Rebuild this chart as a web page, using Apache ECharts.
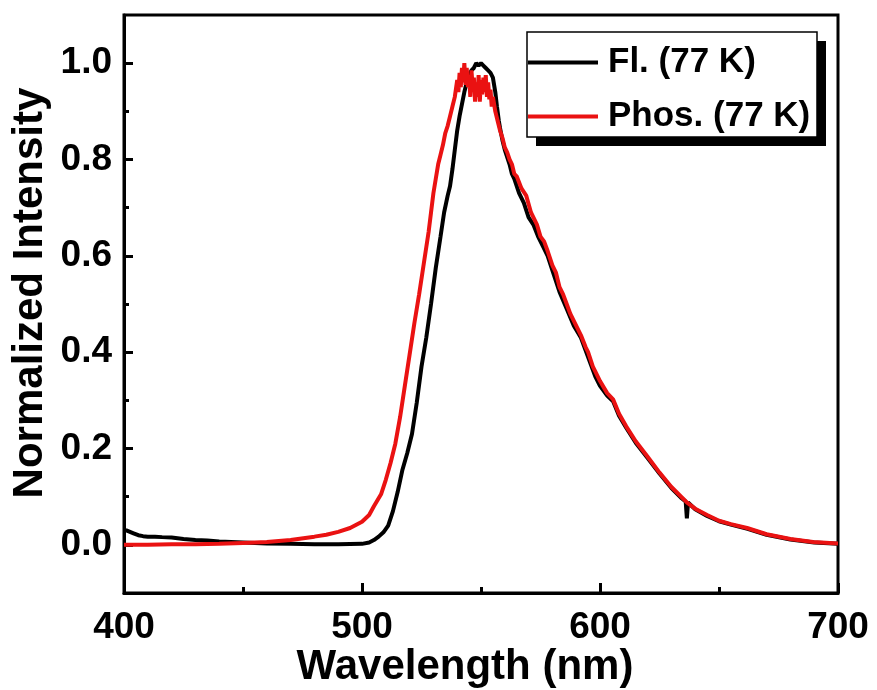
<!DOCTYPE html>
<html>
<head>
<meta charset="utf-8">
<script src="https://cdn.jsdelivr.net/npm/echarts@6/dist/echarts.min.js"></script>
<style>html,body{margin:0;padding:0;background:#fff;}#chart{width:877px;height:690px;}</style>
</head>
<body>
<div id="chart"></div>
<script>
// ---- data ----
const seriesNames = ['Fl. (77 K)', 'Phos. (77 K)'];
const xTicks = [400, 500, 600, 700];
const yTickLabels = [0.0, 0.2, 0.4, 0.6, 0.8, 1.0];
const yMinorTicks = [0.1, 0.3, 0.5, 0.7, 0.9];

const flWavelength = [400,401,402,404,406,408,410,413,416,420,425,430,435,440,445,450,460,470,480,490,500,503,505,507,509,511,513,515,517,519,521,523,525,527,529,531,533,534.5,536,537,538,539,540,541,542,543,544,545,546,547,548,549,550,551,552,553,554,555,556,556.7,557.5,558,559,560,562,563,564,566,568,570,572,574,576,578,580,583,586,589,592,595,598,600,603,605.5,608,611,615,620,625,630,634,636,636.5,637,640,645,650,655,662,670,680,690,700];
const flIntensity  = [0.031,0.030,0.028,0.024,0.020,0.018,0.017,0.017,0.016,0.015,0.012,0.010,0.009,0.007,0.006,0.005,0.003,0.002,0.001,0.001,0.002,0.005,0.010,0.017,0.026,0.040,0.070,0.110,0.156,0.190,0.230,0.295,0.370,0.430,0.500,0.575,0.640,0.690,0.725,0.745,0.780,0.820,0.860,0.890,0.915,0.940,0.960,0.975,0.985,0.990,1.000,0.995,1.000,0.995,0.990,0.985,0.980,0.970,0.940,0.910,0.880,0.865,0.840,0.820,0.790,0.770,0.760,0.730,0.710,0.680,0.665,0.640,0.620,0.600,0.570,0.525,0.490,0.455,0.430,0.390,0.350,0.330,0.310,0.298,0.268,0.243,0.212,0.180,0.148,0.118,0.098,0.090,0.055,0.088,0.074,0.060,0.049,0.042,0.033,0.021,0.011,0.005,0.002];

const phWavelength = [400,410,420,430,440,450,460,470,480,485,490,495,500,503,505,508,510,512,514,516,518,520,522,524,526,528,529,530,531,532,533,534,535,536,537,538,539,540,540.5,541,541.5,542,542.5,543,543.5,544,544.5,545,545.5,546,546.5,547,547.5,548,548.5,549,549.5,550,550.5,551,551.5,552,552.5,553,553.5,554,554.5,555,556,557,558,559,560,561,562,563,564,565,567,569,571,573.5,575,576.5,578,580,581.5,583,584.5,586,587.5,589,590.5,592,594,595,597,598,600,603,605.5,608,611,615,620,625,630,636.6,640,645,650,655,661.8,670,680,689.5,700];
const phIntensity  = [0.000,0.000,0.001,0.001,0.002,0.004,0.006,0.010,0.017,0.021,0.027,0.035,0.048,0.062,0.080,0.105,0.135,0.170,0.210,0.265,0.330,0.395,0.460,0.520,0.585,0.650,0.690,0.730,0.760,0.790,0.810,0.830,0.855,0.870,0.890,0.910,0.930,0.965,0.940,0.980,0.950,0.990,0.960,1.000,0.955,0.990,0.950,0.975,0.930,0.985,0.950,0.970,0.920,0.960,0.930,0.975,0.920,0.965,0.935,0.970,0.940,0.975,0.930,0.960,0.925,0.945,0.910,0.930,0.900,0.880,0.860,0.845,0.825,0.815,0.800,0.790,0.770,0.765,0.740,0.725,0.690,0.665,0.640,0.630,0.610,0.580,0.565,0.535,0.520,0.500,0.480,0.465,0.450,0.435,0.410,0.400,0.370,0.360,0.340,0.315,0.302,0.272,0.246,0.215,0.183,0.150,0.120,0.0875,0.075,0.062,0.050,0.043,0.035,0.022,0.012,0.006,0.003];

const zip = (xs, ys) => xs.map((x, i) => [x, ys[i]]);
const FONT = '"Liberation Sans", Arial, sans-serif';
const RED = '#ea1212';

const chart = echarts.init(document.getElementById('chart'), null, {renderer: 'canvas'});
chart.setOption({
  animation: false,
  backgroundColor: '#fff',
  grid: {left: 124, right: 39, top: 15, bottom: 97, show: true, borderColor: '#000', borderWidth: 3, backgroundColor: 'transparent', containLabel: false, outerBoundsMode: 'none'},
  graphic: [
    {type: 'rect', z: 90, shape: {x: 536, y: 41, width: 290, height: 105}, style: {fill: '#000'}},
    {type: 'rect', z: 91, shape: {x: 527, y: 32, width: 290, height: 105}, style: {fill: '#fff', stroke: '#000', lineWidth: 1.5}}
  ],
  legend: {
    z: 100,
    data: seriesNames,
    orient: 'vertical',
    left: 528, top: 45,
    itemWidth: 70, itemHeight: 4, itemGap: 19,
    icon: 'rect',
    textStyle: {fontFamily: FONT, fontWeight: 'bold', fontSize: 35, color: '#000', padding: [0, 0, 0, 5], lineHeight: 34},
    padding: 0
  },
  xAxis: {
    type: 'value', min: 400, max: 700, interval: 100,
    name: 'Wavelength (nm)', nameLocation: 'middle', nameGap: 53, nameMoveOverlap: false,
    nameTextStyle: {fontFamily: FONT, fontWeight: 'bold', fontSize: 42, color: '#000', padding: [0, 32, 0, 0]},
    axisLine: {show: true, onZero: false, lineStyle: {color: '#000', width: 3}},
    axisTick: {show: true, inside: true, length: 10, lineStyle: {color: '#000', width: 3}},
    minorTick: {show: true, splitNumber: 2, length: 6, lineStyle: {color: '#000', width: 3}},
    axisLabel: {fontFamily: FONT, fontWeight: 'bold', fontSize: 37, color: '#000', margin: 16, customValues: xTicks},
    splitLine: {show: false}, minorSplitLine: {show: false}
  },
  yAxis: [{
    type: 'value', min: -0.1, max: 1.1, interval: 0.1,
    name: 'Normalized Intensity', nameLocation: 'middle', nameGap: 73, nameMoveOverlap: false,
    nameTextStyle: {fontFamily: FONT, fontWeight: 'bold', fontSize: 42, color: '#000', padding: [0, 0, 0, 22]},
    axisLine: {show: true, onZero: false, lineStyle: {color: '#000', width: 3}},
    axisTick: {show: true, inside: true, length: 9, lineStyle: {color: '#000', width: 3}, customValues: yTickLabels},
    axisLabel: {fontFamily: FONT, fontWeight: 'bold', fontSize: 37, color: '#000', margin: 12, customValues: yTickLabels, formatter: v => v.toFixed(1)},
    splitLine: {show: false}
  }, {
    type: 'value', min: -0.1, max: 1.1, interval: 0.1, position: 'left',
    axisLine: {show: false},
    axisTick: {show: true, inside: true, length: 5, lineStyle: {color: '#000', width: 3}, customValues: yMinorTicks},
    axisLabel: {show: false},
    splitLine: {show: false}
  }],
  series: [
    {name: seriesNames[0], type: 'line', data: zip(flWavelength, flIntensity), showSymbol: false, symbol: 'none', lineStyle: {color: '#000', width: 4}, itemStyle: {color: '#000'}, z: 2},
    {name: seriesNames[1], type: 'line', data: zip(phWavelength, phIntensity), showSymbol: false, symbol: 'none', lineStyle: {color: RED, width: 4}, itemStyle: {color: RED}, z: 3}
  ]
});
</script>
</body>
</html>
